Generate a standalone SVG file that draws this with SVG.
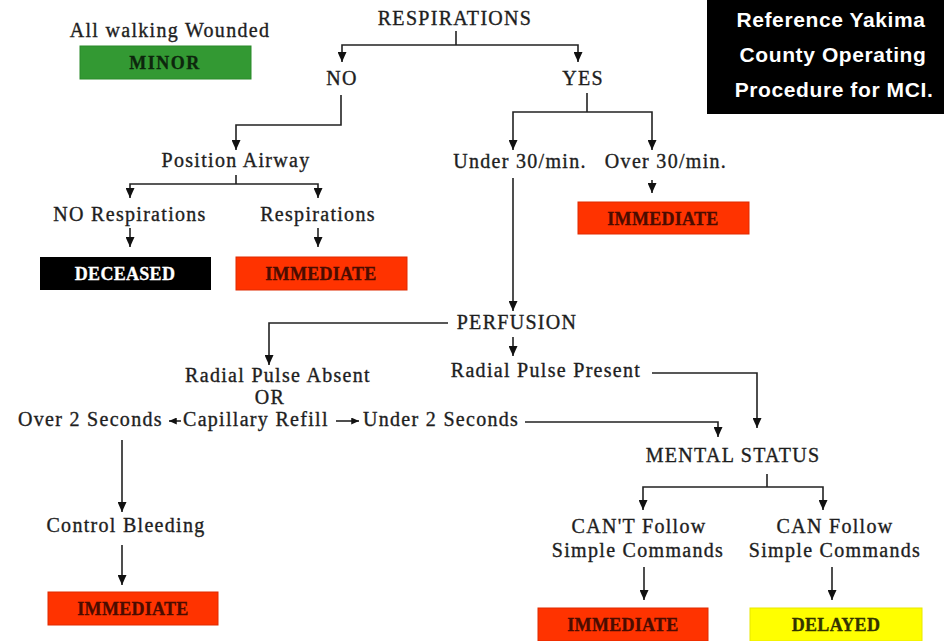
<svg xmlns="http://www.w3.org/2000/svg" width="944" height="641" viewBox="0 0 944 641">
<defs>
<marker id="ah" viewBox="0 0 10 9" refX="10" refY="4.5" markerWidth="10" markerHeight="9" markerUnits="userSpaceOnUse" orient="auto"><path d="M0,0 L10,4.5 L0,9 z" fill="#111"/></marker>
<marker id="ahs" viewBox="0 0 10 9" refX="10" refY="4.5" markerWidth="8" markerHeight="7" markerUnits="userSpaceOnUse" orient="auto"><path d="M0,0 L10,4.5 L0,9 z" fill="#111"/></marker>
</defs>
<style>
.t{font-family:"Liberation Serif","Times New Roman",serif;font-size:20px;letter-spacing:1.3px;fill:#1e1e1e;stroke:#1e1e1e;stroke-width:0.35px;text-anchor:middle}
.ts{text-anchor:start}
.b{font-family:"Liberation Serif","Times New Roman",serif;font-size:18px;font-weight:bold;letter-spacing:0.3px;text-anchor:middle;stroke-width:0.3px}
.red{fill:#ff3300;stroke:#e02a00;stroke-width:1}
.c path{fill:none;stroke:#222;stroke-width:1.6}
.c .a{marker-end:url(#ah)}
.c .s{marker-end:url(#ahs)}
.note{font-family:"Liberation Sans",Arial,sans-serif;font-size:21px;font-weight:bold;fill:#fff;text-anchor:middle;letter-spacing:0.6px}
</style>
<rect width="944" height="641" fill="#fff"/>

<g id="connectors" class="c">
<path d="M456,31 V45"/>
<path class="a" d="M456,45 H578 V62"/>
<path class="a" d="M456,45 H342 V62"/>
<path class="a" d="M341,95 V125 H236 V150"/>
<path d="M236,175 V184"/>
<path class="a" d="M236,184 H130 V198"/>
<path class="a" d="M236,184 H318 V198"/>
<path class="a" d="M130,228 V247"/>
<path class="a" d="M318,228 V247"/>
<path d="M587,93 V112"/>
<path class="a" d="M587,112 H513 V150"/>
<path class="a" d="M587,112 H652 V150"/>
<path class="a" d="M652,180 V193"/>
<path class="a" d="M513,178 V311"/>
<path class="a" d="M448,323 H269 V365"/>
<path class="a" d="M513,337 V356"/>
<path class="a" d="M652,373 H757 V428"/>
<path class="a" d="M525,422 H718 V437"/>
<path class="s" d="M181,421 H169"/>
<path class="s" d="M336,421 H359"/>
<path class="a" d="M122,440 V512"/>
<path class="a" d="M122,545 V585"/>
<path d="M767,474 V487"/>
<path class="a" d="M767,487 H643 V510"/>
<path class="a" d="M767,487 H823 V510"/>
<path class="a" d="M644,567 V600"/>
<path class="a" d="M832,567 V600"/>
</g>

<g id="note">
<rect x="707" y="0" width="237" height="114" fill="#000"/>
<text class="note" x="831" y="27">Reference Yakima</text>
<text class="note" x="833" y="62">County Operating</text>
<text class="note" x="834" y="97">Procedure for MCI.</text>
</g>

<g id="walking"><text class="t" x="170" y="37">All walking Wounded</text></g>
<g id="minor"><rect x="80" y="46" width="171" height="33" fill="#339933" stroke="#2a8a2a"/><text class="b" x="165" y="69" fill="#0d260d" stroke="#0d260d" style="letter-spacing:1.5px">MINOR</text></g>
<g id="respirations"><text class="t" x="455" y="25">RESPIRATIONS</text></g>
<g id="no"><text class="t" x="342" y="85">NO</text></g>
<g id="yes"><text class="t" x="583" y="85">YES</text></g>
<g id="position-airway"><text class="t" x="236" y="167">Position Airway</text></g>
<g id="no-respirations"><text class="t" x="130" y="221">NO Respirations</text></g>
<g id="resp"><text class="t" x="318" y="221">Respirations</text></g>
<g id="deceased"><rect x="40" y="257" width="171" height="33" fill="#000"/><text class="b" x="125" y="280" fill="#fff" stroke="#fff">DECEASED</text></g>
<g id="immediate1"><rect class="red" x="236" y="257" width="171" height="33"/><text class="b" x="321" y="280" fill="#4a0c00" stroke="#4a0c00">IMMEDIATE</text></g>
<g id="under30"><text class="t" x="520" y="168">Under 30/min.</text></g>
<g id="over30"><text class="t" x="666" y="168">Over 30/min.</text></g>
<g id="immediate2"><rect class="red" x="578" y="202" width="171" height="32"/><text class="b" x="663" y="225" fill="#4a0c00" stroke="#4a0c00">IMMEDIATE</text></g>
<g id="perfusion"><text class="t" x="517" y="329">PERFUSION</text></g>
<g id="absent"><text class="t" x="278" y="382">Radial Pulse Absent</text><text class="t" x="270" y="404">OR</text></g>
<g id="present"><text class="t" x="546" y="377">Radial Pulse Present</text></g>
<g id="over2"><text class="t ts" x="18" y="426">Over 2 Seconds</text></g>
<g id="capillary"><text class="t ts" x="183" y="426">Capillary Refill</text></g>
<g id="under2"><text class="t ts" x="363" y="426">Under 2 Seconds</text></g>
<g id="mental"><text class="t" x="733" y="462">MENTAL STATUS</text></g>
<g id="cant"><text class="t" x="639" y="533">CAN'T Follow</text><text class="t" x="638" y="557">Simple Commands</text></g>
<g id="can"><text class="t" x="835" y="533">CAN Follow</text><text class="t" x="835" y="557">Simple Commands</text></g>
<g id="immediate3"><rect class="red" x="538" y="608" width="170" height="33"/><text class="b" x="623" y="631" fill="#4a0c00" stroke="#4a0c00">IMMEDIATE</text></g>
<g id="delayed"><rect x="750" y="608" width="172" height="33" fill="#ffff00" stroke="#e8e800"/><text class="b" x="836" y="631" fill="#333300" stroke="#333300">DELAYED</text></g>
<g id="control"><text class="t" x="126" y="532">Control Bleeding</text></g>
<g id="immediate4"><rect class="red" x="48" y="592" width="170" height="33"/><text class="b" x="133" y="615" fill="#4a0c00" stroke="#4a0c00">IMMEDIATE</text></g>
</svg>
